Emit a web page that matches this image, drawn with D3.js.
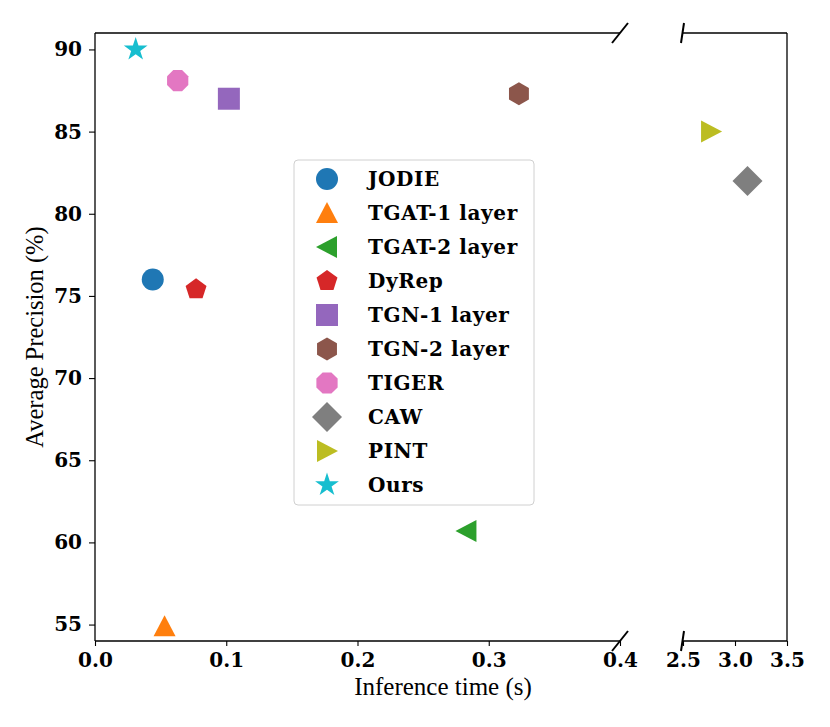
<!DOCTYPE html>
<html>
<head>
<meta charset="utf-8">
<script src="https://cdn.jsdelivr.net/npm/d3@7"></script>
<style>
  body { margin: 0; background: #fff; }
  .tick text { font-family: "DejaVu Serif", serif; font-weight: bold; font-size: 20px; fill: #000; }
</style>
</head>
<body>
<div id="chart"></div>
<script>
const width = 830;
const height = 727;

// Chart data
const methods = ['JODIE', 'TGAT-1 layer', 'TGAT-2 layer', 'DyRep', 'TGN-1 layer',
  'TGN-2 layer', 'TIGER', 'CAW', 'PINT', 'Ours'];
const inferenceTime = [0.044, 0.053, 0.283, 0.077, 0.102, 0.323, 0.063, 3.12, 2.77, 0.031];
const avgPrecision = [76.0, 54.9, 60.7, 75.4, 87.0, 87.3, 88.1, 82.0, 85.0, 90.0];
const markerTypes = ['circle', 'triangleUp', 'triangleLeft', 'pentagon', 'square',
  'hexagon', 'octagon', 'diamond', 'triangleRight', 'star'];
const leftTicks = [0.0, 0.1, 0.2, 0.3, 0.4];
const rightTicks = [2.5, 3.0, 3.5];
const yTicks = [55, 60, 65, 70, 75, 80, 85, 90];

const colors = d3.schemeCategory10;

// Broken x axis: two panels share one y scale
const xLeft = d3.scaleLinear().domain([0, 0.4]).range([95, 620]);
const xRight = d3.scaleLinear().domain([2.5, 3.5]).range([683, 787]);
const y = d3.scaleLinear().domain([54, 91]).range([641, 33]);
const plotTop = y.range()[1], plotBottom = y.range()[0];

const svg = d3.select('#chart')
  .append('svg')
  .attr('width', width)
  .attr('height', height);

// Marker shapes, built as polygons around (0,0)
function polygon(n, r, rot) {
  const pts = [];
  for (let i = 0; i < n; i++) {
    const a = rot + i * 2 * Math.PI / n;
    pts.push([r * Math.sin(a), -r * Math.cos(a)]);
  }
  return 'M' + pts.map(p => p.join(',')).join('L') + 'Z';
}
function star(r) {
  const pts = [];
  for (let i = 0; i < 10; i++) {
    const rr = i % 2 === 0 ? r : r * 0.382;
    const a = i * Math.PI / 5;
    pts.push([rr * Math.sin(a), -rr * Math.cos(a)]);
  }
  return 'M' + pts.map(p => p.join(',')).join('L') + 'Z';
}
function markerPath(type) {
  switch (type) {
    case 'circle': return d3.symbol(d3.symbolCircle, Math.PI * 11 * 11)();
    case 'triangleUp': return 'M0,-11L11,10L-11,10Z';
    case 'triangleLeft': return 'M-11,0L10,-11L10,11Z';
    case 'triangleRight': return 'M11,0L-10,-11L-10,11Z';
    case 'square': return 'M-11,-11L11,-11L11,11L-11,11Z';
    case 'pentagon': return polygon(5, 11, 0);
    case 'hexagon': return polygon(6, 11.5, 0);
    case 'octagon': return polygon(8, 11.5, Math.PI / 8);
    case 'diamond': return 'M0,-15L15,0L0,15L-15,0Z';
    case 'star': return star(12.5);
  }
}

const data = methods.map((m, i) => ({
  name: m,
  x: inferenceTime[i],
  y: avgPrecision[i],
  type: markerTypes[i],
  color: colors[i]
}));

// Spines
const spine = svg.append('g').attr('stroke', '#000').attr('stroke-width', 1.3).attr('fill', 'none');
spine.append('line').attr('x1', xLeft.range()[0]).attr('x2', xLeft.range()[0]).attr('y1', plotTop).attr('y2', plotBottom);
spine.append('line').attr('x1', xLeft.range()[0]).attr('x2', xLeft.range()[1]).attr('y1', plotTop).attr('y2', plotTop);
spine.append('line').attr('x1', xLeft.range()[0]).attr('x2', xLeft.range()[1]).attr('y1', plotBottom).attr('y2', plotBottom);
spine.append('line').attr('x1', xRight.range()[1]).attr('x2', xRight.range()[1]).attr('y1', plotTop).attr('y2', plotBottom);
spine.append('line').attr('x1', xRight.range()[0]).attr('x2', xRight.range()[1]).attr('y1', plotTop).attr('y2', plotTop);
spine.append('line').attr('x1', xRight.range()[0]).attr('x2', xRight.range()[1]).attr('y1', plotBottom).attr('y2', plotBottom);

// Axes
function styleAxis(g) {
  g.select('.domain').remove();
  g.selectAll('.tick line').attr('stroke', '#000').attr('stroke-width', 1.1);
}
svg.append('g')
  .attr('transform', `translate(0,${plotBottom})`)
  .call(d3.axisBottom(xLeft).tickValues(leftTicks).tickFormat(d3.format('.1f')).tickSize(5).tickPadding(7))
  .call(styleAxis);
svg.append('g')
  .attr('transform', `translate(0,${plotBottom})`)
  .call(d3.axisBottom(xRight).tickValues(rightTicks).tickFormat(d3.format('.1f')).tickSize(5).tickPadding(7))
  .call(styleAxis);
svg.append('g')
  .attr('transform', `translate(${xLeft.range()[0]},0)`)
  .call(d3.axisLeft(y).tickValues(yTicks).tickSize(6).tickPadding(7))
  .call(styleAxis);

// Break markers
const breaks = svg.append('g').attr('stroke', '#000').attr('stroke-width', 2);
[plotTop, plotBottom].forEach(function (yy) {
  breaks.append('line')
    .attr('x1', xLeft.range()[1] - 8).attr('y1', yy + 10)
    .attr('x2', xLeft.range()[1] + 8).attr('y2', yy - 10);
  breaks.append('line')
    .attr('x1', xRight.range()[0] - 2).attr('y1', yy + 10)
    .attr('x2', xRight.range()[0] + 1).attr('y2', yy - 10);
});

// Points
svg.selectAll('.point')
  .data(data)
  .enter()
  .append('path')
  .attr('class', 'point')
  .attr('d', d => markerPath(d.type))
  .attr('transform', function (d) {
    const px = d.x > 1 ? xRight(d.x) : xLeft(d.x);
    return `translate(${px},${y(d.y)})`;
  })
  .style('fill', d => d.color);

// Legend
const legend = svg.append('g').attr('transform', 'translate(294,160)');
legend.append('rect')
  .attr('width', 240).attr('height', 345)
  .attr('rx', 4)
  .attr('fill', '#fff').attr('fill-opacity', 0.8)
  .attr('stroke', '#d0d0d0').attr('stroke-width', 1);
const rows = legend.selectAll('.row')
  .data(data)
  .enter()
  .append('g')
  .attr('class', 'row')
  .attr('transform', (d, i) => `translate(0,${19 + i * 34})`);
rows.append('path')
  .attr('d', d => markerPath(d.type))
  .attr('transform', 'translate(33,0)')
  .style('fill', d => d.color);
rows.append('text')
  .attr('x', 74)
  .attr('y', 7)
  .style('font-family', '"DejaVu Serif", serif')
  .style('font-weight', 'bold')
  .style('font-size', '20px')
  .style('letter-spacing', '0.6px')
  .text(d => d.name);

// Axis labels
svg.append('text')
  .attr('x', 443)
  .attr('y', 695)
  .attr('text-anchor', 'middle')
  .style('font-family', '"Liberation Serif", serif')
  .style('font-size', '25px')
  .text('Inference time (s)');
svg.append('text')
  .attr('transform', `translate(43,${(plotTop + plotBottom) / 2}) rotate(-90)`)
  .attr('text-anchor', 'middle')
  .style('font-family', '"Liberation Serif", serif')
  .style('font-size', '24.5px')
  .text('Average Precision (%)');
</script>
</body>
</html>
